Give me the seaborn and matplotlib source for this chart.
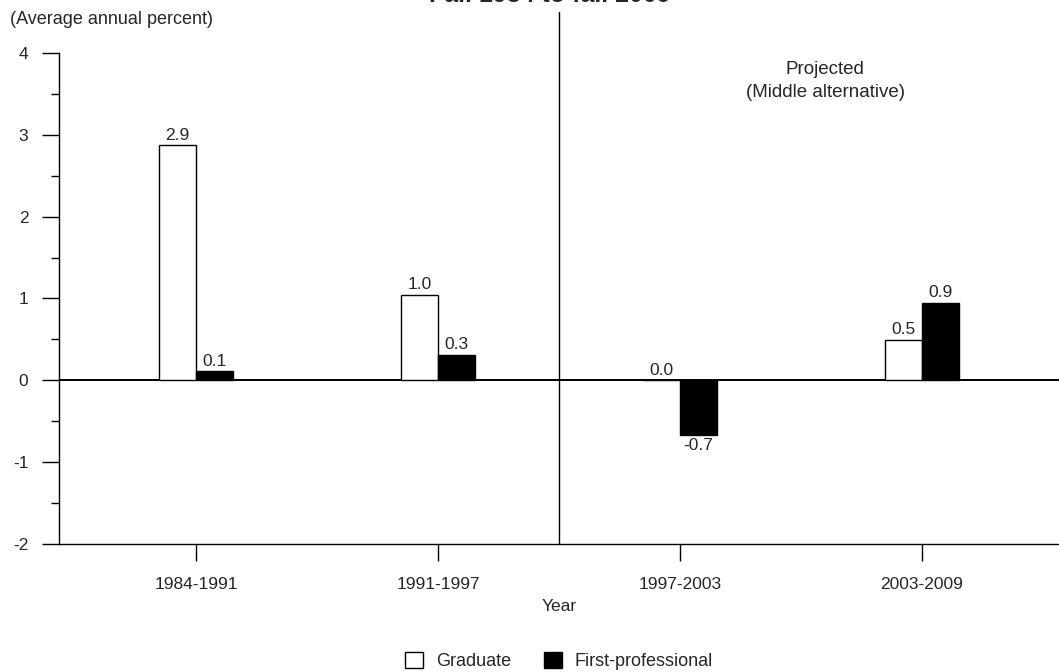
import matplotlib
matplotlib.use("Agg")
import matplotlib.pyplot as plt
import seaborn as sns
import pandas as pd
from matplotlib.ticker import FixedLocator

# data
periods = ["1984-1991", "1991-1997", "1997-2003", "2003-2009"]
graduate = [2.87, 1.04, 0.0, 0.49]
first_prof = [0.11, 0.31, -0.67, 0.95]
graduate_labels = ["2.9", "1.0", "0.0", "0.5"]
first_prof_labels = ["0.1", "0.3", "-0.7", "0.9"]
levels = ["Graduate", "First-professional"]

df = pd.DataFrame({
    "period": periods * 2,
    "value": graduate + first_prof,
    "level": [levels[0]] * len(periods) + [levels[1]] * len(periods),
})

sns.set_theme(style="white")
plt.rcParams["font.family"] = ["Liberation Sans", "DejaVu Sans"]
plt.rcParams["axes.unicode_minus"] = False
FS = 12.5

fig = plt.figure(figsize=(10.59, 6.72), dpi=100)
ax = fig.add_axes([59 / 1059, 128 / 672, 1000 / 1059, 532 / 672])

sns.barplot(data=df, x="period", y="value", hue="level", hue_order=levels,
            palette={"Graduate": "white", "First-professional": "black"},
            edgecolor="black", linewidth=1, width=0.305, ax=ax, legend=True)

for cont, labs in zip(ax.containers, [graduate_labels, first_prof_labels]):
    ax.bar_label(cont, labels=labs, padding=2, fontsize=FS)

ax.set_xlim(-0.566, 3.566)
ax.set_ylim(-2, 4.5)
ax.yaxis.set_major_locator(FixedLocator([-2, -1, 0, 1, 2, 3, 4]))
ax.yaxis.set_minor_locator(FixedLocator([-1.5, -0.5, 0.5, 1.5, 2.5, 3.5]))
ax.spines["left"].set_bounds(-2, 4)
for s in ["top", "right"]:
    ax.spines[s].set_visible(False)
for s in ["left", "bottom"]:
    ax.spines[s].set_color("black")
    ax.spines[s].set_linewidth(1)

ax.tick_params(axis="y", which="major", direction="out", length=12, width=1,
               color="black", left=True, labelsize=FS, pad=10)
ax.tick_params(axis="y", which="minor", direction="out", length=6, width=1,
               color="black", left=True)
ax.tick_params(axis="x", direction="out", length=12, width=1, color="black",
               bottom=True, labelsize=FS, pad=12)

ax.axhline(0, color="black", linewidth=1.4, zorder=0.5)
ax.axvline(1.5, color="black", linewidth=1)

ax.set_xlabel("Year", fontsize=FS, labelpad=5)
ax.set_ylabel("")

ax.text(2.6, 3.66, "Projected\n(Middle alternative)", ha="center", va="center",
        fontsize=13.5, linespacing=1.45)

fig.text(10 / 1059, 1 - 19 / 672, "(Average annual percent)", ha="left",
         va="center", fontsize=13)
# title is cut off at the top edge in the original as well
fig.text(550 / 1059, 1 - 1.5 / 672, "Fall 1984 to fall 2009", ha="center",
         va="baseline", fontsize=18, fontweight="bold")

handles, labels = ax.get_legend_handles_labels()
ax.get_legend().remove()
fig.legend(handles, labels, loc="center", bbox_to_anchor=(559 / 1059, 11 / 672),
           ncol=2, frameon=False, fontsize=13, handlelength=1.0,
           handleheight=1.0, columnspacing=1.8, handletextpad=0.7)

fig.savefig("out.png", dpi=100)
